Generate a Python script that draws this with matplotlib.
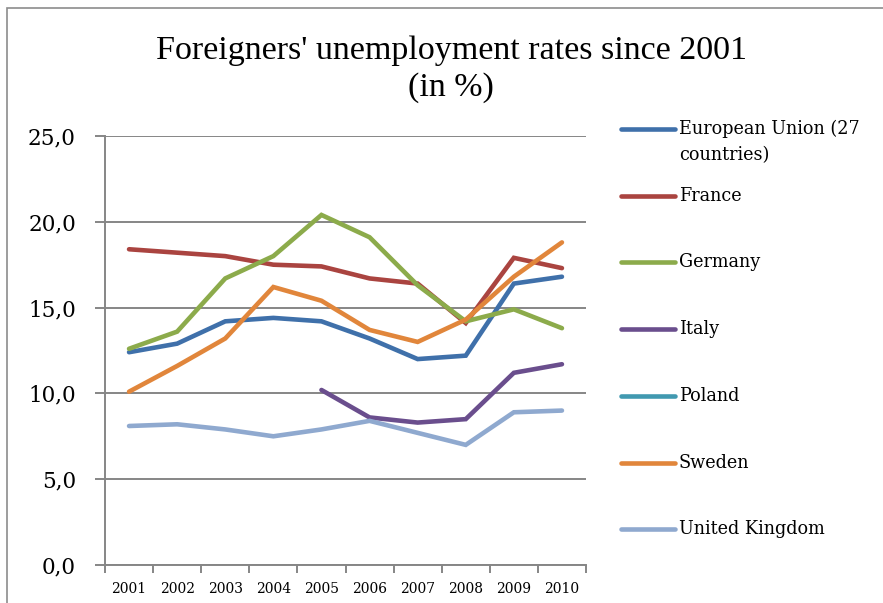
import numpy as np
from matplotlib import pyplot as plt
from matplotlib.lines import Line2D
from matplotlib.patches import Rectangle

years = ['2001', '2002', '2003', '2004', '2005', '2006', '2007', '2008', '2009', '2010']

eu = [12.4, 12.9, 14.2, 14.4, 14.2, 13.2, 12.0, 12.2, 16.4, 16.8]
france = [18.4, 18.2, 18.0, 17.5, 17.4, 16.7, 16.4, 14.1, 17.9, 17.3]
germany = [12.6, 13.6, 16.7, 18.0, 20.4, 19.1, 16.3, 14.2, 14.9, 13.8]
italy = [None, None, None, None, 10.2, 8.6, 8.3, 8.5, 11.2, 11.7]
poland = [None] * 10
sweden = [10.1, 11.6, 13.2, 16.2, 15.4, 13.7, 13.0, 14.3, 16.8, 18.8]
uk = [8.1, 8.2, 7.9, 7.5, 7.9, 8.4, 7.7, 7.0, 8.9, 9.0]

names = ['European Union (27\ncountries)', 'France', 'Germany', 'Italy',
         'Poland', 'Sweden', 'United Kingdom']
series = [eu, france, germany, italy, poland, sweden, uk]
colors = ['#3F70AA', '#AA4440', '#8CAB4B', '#6A4E8D', '#4199B0', '#E1863B', '#8FA9CF']

W, H = 883, 603
fig = plt.figure(figsize=(W / 100, H / 100), dpi=100)
fig.patches.append(Rectangle((7 / W, -0.1), 1.2, 1.1 - 8 / H, transform=fig.transFigure,
                             fill=False, edgecolor='#8c8c8c', lw=1.2))

ax = fig.add_axes([105 / W, 1 - 565 / H, (586 - 105) / W, (565 - 136) / H])
x = np.arange(len(years))
for vals, c in zip(series, colors):
    y = np.array([np.nan if v is None else v for v in vals])
    ax.plot(x, y, color=c, lw=3.3, solid_capstyle='round', solid_joinstyle='miter', zorder=3)

ax.set_xlim(-0.5, len(years) - 0.5)
ax.set_ylim(0, 25)
ax.set_yticks(np.arange(0, 26, 5))
ax.set_yticklabels([f'{v:.1f}'.replace('.', ',') for v in np.arange(0, 26, 5)],
                   family='DejaVu Serif', fontsize=15.5)
ax.set_xticks(x)
ax.set_xticklabels(years, family='DejaVu Serif', fontsize=10)
ax.set_xticks(np.arange(-0.5, len(years)), minor=True)
ax.tick_params(axis='x', which='major', length=0, pad=12)
ax.tick_params(axis='x', which='minor', length=6, color='#868686', width=1.4)
ax.tick_params(axis='y', length=7, color='#868686', width=1.4, pad=14)
ax.grid(axis='y', color='#868686', lw=1.4)
ax.set_axisbelow(True)
for s in ['top', 'right']:
    ax.spines[s].set_visible(False)
for s in ['left', 'bottom']:
    ax.spines[s].set_color('#868686')
    ax.spines[s].set_linewidth(1.4)

fig.text(451 / W, 1 - 69 / H, "Foreigners' unemployment rates since 2001\n(in %)",
         ha='center', va='center', family='Liberation Serif', fontsize=24.5,
         linespacing=1.28)

# legend drawn by hand: handle aligned with first text line
for i, (name, c) in enumerate(zip(names, colors)):
    yy = 1 - (129 + i * 66.7) / H
    fig.add_artist(Line2D([621 / W, 675 / W], [yy, yy], transform=fig.transFigure,
                          color=c, lw=3.3, solid_capstyle='round'))
    fig.text(679 / W, yy, name.split('\n')[0], va='center', ha='left',
             family='DejaVu Serif', fontsize=12.7)
    if '\n' in name:
        fig.text(679 / W, yy - 26 / H, name.split('\n')[1], va='center', ha='left',
                 family='DejaVu Serif', fontsize=12.7)

fig.savefig('out.png', dpi=100)
